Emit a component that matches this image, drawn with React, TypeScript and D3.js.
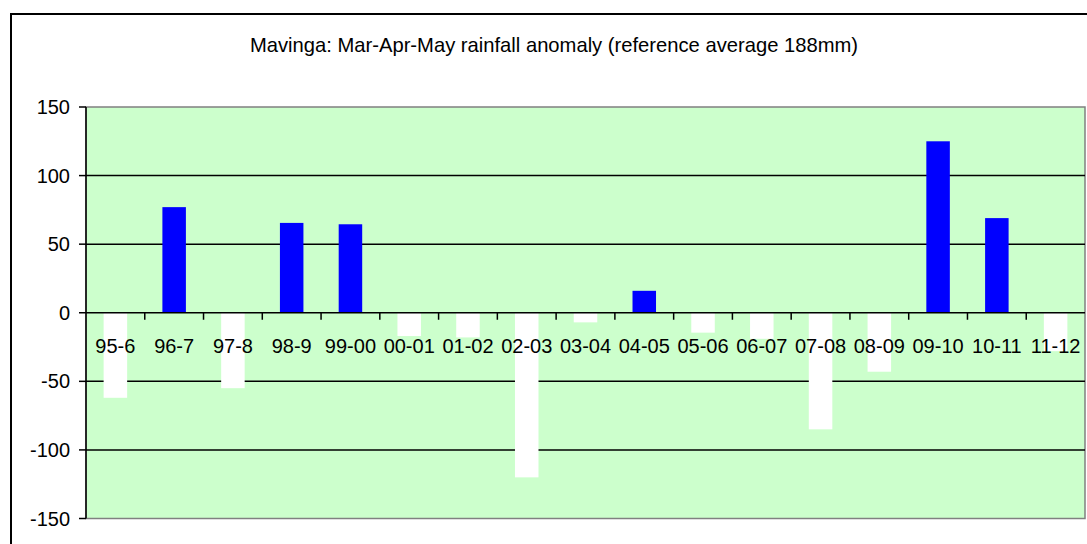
import React from "react";
import * as d3 from "d3";

const categories = ["95-6","96-7","97-8","98-9","99-00","00-01","01-02","02-03","03-04","04-05","05-06","06-07","07-08","08-09","09-10","10-11","11-12"];
const anomalies = [-62, 77, -55, 65.5, 64.5, -17, -18, -120, -7, 16, -14.5, -19, -85, -43, 125, 69, -28];
const yTicks = [-150, -100, -50, 0, 50, 100, 150];
const title = "Mavinga: Mar-Apr-May rainfall anomaly (reference average 188mm)";

export default function App() {
  const W = 1087, H = 544;
  const left = 86, right = 1085, top = 107, bottom = 518.5;
  const x = d3.scaleBand<string>().domain(categories).range([left, right]).paddingInner(0.6).paddingOuter(0.3);
  const xb = d3.scaleBand<string>().domain(categories).range([left, right]);
  const y = d3.scaleLinear().domain([-150, 150]).range([bottom, top]);
  const font = "'Liberation Sans', Arial, sans-serif";
  return (
    <svg width={W} height={H} style={{ position: "absolute", left: 0, top: 0 }}>
      <rect x={0} y={0} width={W} height={H} fill="#fff" />
      <rect x={11} y={14} width={W + 10} height={H + 10} fill="#fff" stroke="#000" strokeWidth={2} />
      <text x={554} y={51.5} textAnchor="middle" fontFamily={font} fontSize={20.2} fill="#000">{title}</text>
      <rect x={left} y={top} width={right - left} height={bottom - top} fill="#ccffcc" stroke="#808080" strokeWidth={1.5} />
      {yTicks.filter(t => t !== 150 && t !== -150 && t !== 0).map(t => (
        <line key={"g" + t} x1={left} x2={right} y1={y(t)} y2={y(t)} stroke="#000" strokeWidth={1.5} />
      ))}
      {categories.map((c, i) => {
        const v = anomalies[i];
        return (
          <rect key={c} x={x(c)} y={v >= 0 ? y(v) : y(0)} width={x.bandwidth()} height={Math.abs(y(v) - y(0))}
            fill={v >= 0 ? "#0000ff" : "#ffffff"} />
        );
      })}
      <line x1={left} x2={right} y1={y(0)} y2={y(0)} stroke="#000" strokeWidth={1.5} />
      {categories.slice(1).map(c => (
        <line key={"t" + c} x1={xb(c)} x2={xb(c)} y1={y(0)} y2={y(0) + 7} stroke="#000" strokeWidth={1.5} />
      ))}
      <line x1={left} x2={left} y1={top} y2={bottom} stroke="#000" strokeWidth={1.5} />
      {yTicks.map(t => (
        <g key={"y" + t}>
          <line x1={left - 7} x2={left} y1={y(t)} y2={y(t)} stroke="#000" strokeWidth={1.5} />
          <text x={70} y={y(t) + 7} textAnchor="end" fontFamily={font} fontSize={20} fill="#000">{t}</text>
        </g>
      ))}
      {categories.map(c => (
        <text key={"l" + c} x={(xb(c) as number) + xb.bandwidth() / 2} y={352.5} textAnchor="middle" fontFamily={font} fontSize={20} fill="#000">{c}</text>
      ))}
    </svg>
  );
}
